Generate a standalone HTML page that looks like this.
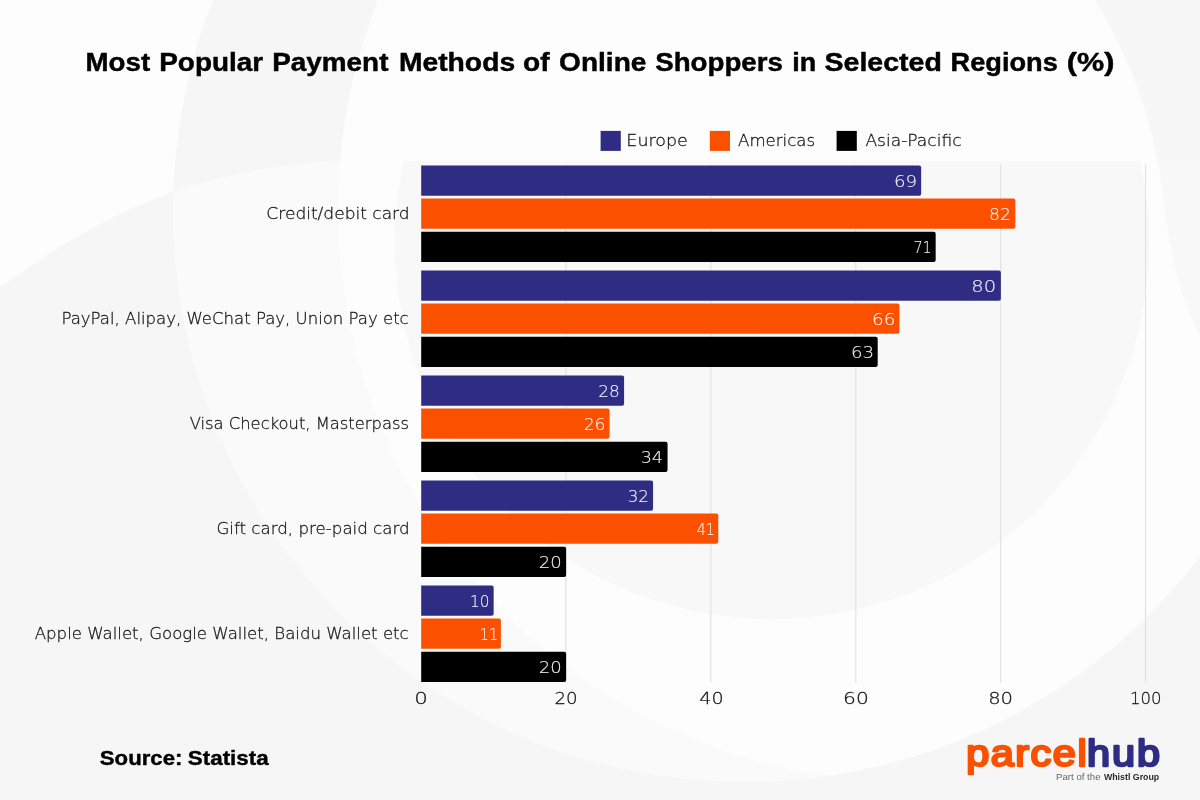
<!DOCTYPE html>
<html lang="en"><head><meta charset="utf-8"><title>Most Popular Payment Methods of Online Shoppers in Selected Regions (%)</title>
<style>
html,body{margin:0;padding:0;background:#f6f6f6;}
body{width:1200px;height:800px;overflow:hidden;position:relative;}
svg{position:absolute;left:0;top:0;display:block}
.lt{font-family:'DejaVu Sans Light','DejaVu Sans','Liberation Sans',sans-serif;font-weight:200;font-size:16px;fill:#161616;stroke:#161616;stroke-width:0.27px}
.val{font-family:'DejaVu Sans Light','DejaVu Sans','Liberation Sans',sans-serif;font-weight:200;font-size:16px;fill:#ffffff;stroke:#fff;stroke-width:0.15px;opacity:0.92}
.bd{font-family:'Liberation Sans','DejaVu Sans',sans-serif;font-weight:700;fill:#000}
</style></head><body>
<svg width="1200" height="800" viewBox="0 0 1200 800">

<!--BG-->
<defs><clipPath id="topclip"><path d="M0,0H1200V161H349Q270,162 185,188Q100,215 0,287Z"/></clipPath>
<clipPath id="outclip"><path d="M173,210a572,572 0 1 0 1144,0a572,572 0 1 0 -1144,0z"/></clipPath></defs>
<g id="bg">
<rect x="0" y="0" width="1200" height="800" fill="#f6f6f6"/>
<path d="M173,210a572,572 0 1 0 1144,0a572,572 0 1 0 -1144,0z" fill="#fdfdfd"/>
<g clip-path="url(#outclip)"><path d="M0,0H1200V800H0ZM338,210a572,572 0 1 0 1144,0a572,572 0 1 0 -1144,0z" fill-rule="evenodd" fill="#fafafa"/></g>
<path d="M395,242a377,377 0 1 0 754,0a377,377 0 1 0 -754,0z" fill="#f8f8f8"/>
<path d="M1095,0Q1150,90 1162,190T1200,335V0Z" fill="#f8f8f8"/>
<g clip-path="url(#topclip)"><rect x="0" y="0" width="1200" height="300" fill="#fdfdfd"/>
<g clip-path="url(#outclip)"><path d="M0,0H1200V800H0ZM338,210a572,572 0 1 0 1144,0a572,572 0 1 0 -1144,0z" fill-rule="evenodd" fill="#f6f6f6"/></g>
<path d="M1095,0Q1150,90 1162,190T1200,335V0Z" fill="#f7f7f7"/></g>
</g>
<g class="bd" font-size="25.8" style="font-family:'Liberation Sans','Liberation Sans',sans-serif" stroke="#000" stroke-width="0.45" stroke-linejoin="round">
<text x="85.57" y="70.9" textLength="64.56" lengthAdjust="spacingAndGlyphs" >Most</text>
<text x="159.26" y="70.9" textLength="103.84" lengthAdjust="spacingAndGlyphs" >Popular</text>
<text x="272.26" y="70.9" textLength="116.18" lengthAdjust="spacingAndGlyphs" >Payment</text>
<text x="398.93" y="70.9" textLength="116.21" lengthAdjust="spacingAndGlyphs" >Methods</text>
<text x="523.12" y="70.9" textLength="26.58" lengthAdjust="spacingAndGlyphs" >of</text>
<text x="559.12" y="70.9" textLength="87.28" lengthAdjust="spacingAndGlyphs" >Online</text>
<text x="655.27" y="70.9" textLength="127.55" lengthAdjust="spacingAndGlyphs" >Shoppers</text>
<text x="792.31" y="70.9" textLength="23.99" lengthAdjust="spacingAndGlyphs" >in</text>
<text x="824.55" y="70.9" textLength="117.27" lengthAdjust="spacingAndGlyphs" >Selected</text>
<text x="950.60" y="70.9" textLength="107.20" lengthAdjust="spacingAndGlyphs" >Regions</text>
<text x="1066.87" y="70.9" textLength="47.54" lengthAdjust="spacingAndGlyphs" >(%)</text>
</g>
<rect x="600.6" y="130.9" width="20.2" height="20" fill="#2e2d83"/>
<text x="626.39" y="146" textLength="61.51" lengthAdjust="spacingAndGlyphs" class="lt">Europe</text>
<rect x="709.8" y="130.9" width="20.2" height="20" fill="#fb5000"/>
<text x="738.04" y="146" textLength="77.09" lengthAdjust="spacingAndGlyphs" class="lt">Americas</text>
<rect x="836.6" y="130.9" width="20.2" height="20" fill="#000000"/>
<text x="865.43" y="146" textLength="96.12" lengthAdjust="spacingAndGlyphs" class="lt">Asia-Pacific</text>
<text x="414.33" y="703.7" textLength="13.57" lengthAdjust="spacingAndGlyphs" class="lt">0</text>
<rect x="565.4" y="164.5" width="1" height="518" fill="#dedede"/>
<text x="554.46" y="703.7" textLength="23.16" lengthAdjust="spacingAndGlyphs" class="lt">20</text>
<rect x="710.3" y="164.5" width="1" height="518" fill="#dedede"/>
<text x="699.30" y="703.7" textLength="24.30" lengthAdjust="spacingAndGlyphs" class="lt">40</text>
<rect x="855.3" y="164.5" width="1" height="518" fill="#dedede"/>
<text x="843.11" y="703.7" textLength="25.70" lengthAdjust="spacingAndGlyphs" class="lt">60</text>
<rect x="1000.2" y="164.5" width="1" height="518" fill="#dedede"/>
<text x="988.17" y="703.7" textLength="24.88" lengthAdjust="spacingAndGlyphs" class="lt">80</text>
<rect x="1145.1" y="164.5" width="1" height="518" fill="#dedede"/>
<text x="1130.00" y="703.7" textLength="31.48" lengthAdjust="spacingAndGlyphs" class="lt">100</text>
<text x="266.37" y="219.3" textLength="143.30" lengthAdjust="spacingAndGlyphs" class="lt">Credit/debit card</text>
<path d="M421.2,165.5h497.97a2,2 0 0 1 2,2v26.2a2,2 0 0 1 -2,2h-497.97z" fill="#2e2d83"/>
<text x="893.99" y="187.0" textLength="23.15" lengthAdjust="spacingAndGlyphs" class="val">69</text>
<path d="M421.2,198.6h592.17a2,2 0 0 1 2,2v26.2a2,2 0 0 1 -2,2h-592.17z" fill="#fb5000"/>
<text x="988.99" y="220.1" textLength="21.84" lengthAdjust="spacingAndGlyphs" class="val">82</text>
<path d="M421.2,231.7h512.47a2,2 0 0 1 2,2v26.2a2,2 0 0 1 -2,2h-512.47z" fill="#000000"/>
<text x="913.39" y="253.2" textLength="18.32" lengthAdjust="spacingAndGlyphs" class="val">71</text>
<text x="61.49" y="324.3" textLength="347.23" lengthAdjust="spacingAndGlyphs" class="lt">PayPal, Alipay, WeChat Pay, Union Pay etc</text>
<path d="M421.2,270.5h577.68a2,2 0 0 1 2,2v26.2a2,2 0 0 1 -2,2h-577.68z" fill="#2e2d83"/>
<text x="971.37" y="292.0" textLength="24.88" lengthAdjust="spacingAndGlyphs" class="val">80</text>
<path d="M421.2,303.6h476.24a2,2 0 0 1 2,2v26.2a2,2 0 0 1 -2,2h-476.24z" fill="#fb5000"/>
<text x="872.03" y="325.1" textLength="23.32" lengthAdjust="spacingAndGlyphs" class="val">66</text>
<path d="M421.2,336.7h454.50a2,2 0 0 1 2,2v26.2a2,2 0 0 1 -2,2h-454.50z" fill="#000000"/>
<text x="851.05" y="358.2" textLength="23.11" lengthAdjust="spacingAndGlyphs" class="val">63</text>
<text x="189.74" y="429.3" textLength="219.27" lengthAdjust="spacingAndGlyphs" class="lt">Visa Checkout, Masterpass</text>
<path d="M421.2,375.5h200.89a2,2 0 0 1 2,2v26.2a2,2 0 0 1 -2,2h-200.89z" fill="#2e2d83"/>
<text x="598.25" y="397.0" textLength="21.46" lengthAdjust="spacingAndGlyphs" class="val">28</text>
<path d="M421.2,408.6h186.40a2,2 0 0 1 2,2v26.2a2,2 0 0 1 -2,2h-186.40z" fill="#fb5000"/>
<text x="583.68" y="430.1" textLength="21.84" lengthAdjust="spacingAndGlyphs" class="val">26</text>
<path d="M421.2,441.7h244.36a2,2 0 0 1 2,2v26.2a2,2 0 0 1 -2,2h-244.36z" fill="#000000"/>
<text x="640.65" y="463.2" textLength="22.34" lengthAdjust="spacingAndGlyphs" class="val">34</text>
<text x="216.40" y="534.3" textLength="193.23" lengthAdjust="spacingAndGlyphs" class="lt">Gift card, pre-paid card</text>
<path d="M421.2,480.5h229.87a2,2 0 0 1 2,2v26.2a2,2 0 0 1 -2,2h-229.87z" fill="#2e2d83"/>
<text x="627.70" y="502.0" textLength="21.29" lengthAdjust="spacingAndGlyphs" class="val">32</text>
<path d="M421.2,513.6h295.09a2,2 0 0 1 2,2v26.2a2,2 0 0 1 -2,2h-295.09z" fill="#fb5000"/>
<text x="696.69" y="535.1" textLength="18.32" lengthAdjust="spacingAndGlyphs" class="val">41</text>
<path d="M421.2,546.7h142.92a2,2 0 0 1 2,2v26.2a2,2 0 0 1 -2,2h-142.92z" fill="#000000"/>
<text x="538.87" y="568.2" textLength="22.94" lengthAdjust="spacingAndGlyphs" class="val">20</text>
<text x="34.74" y="639.3" textLength="373.98" lengthAdjust="spacingAndGlyphs" class="lt">Apple Wallet, Google Wallet, Baidu Wallet etc</text>
<path d="M421.2,585.5h70.46a2,2 0 0 1 2,2v26.2a2,2 0 0 1 -2,2h-70.46z" fill="#2e2d83"/>
<text x="469.93" y="607.0" textLength="19.44" lengthAdjust="spacingAndGlyphs" class="val">10</text>
<path d="M421.2,618.6h77.71a2,2 0 0 1 2,2v26.2a2,2 0 0 1 -2,2h-77.71z" fill="#fb5000"/>
<text x="479.79" y="640.1" textLength="18.32" lengthAdjust="spacingAndGlyphs" class="val">11</text>
<path d="M421.2,651.7h142.92a2,2 0 0 1 2,2v26.2a2,2 0 0 1 -2,2h-142.92z" fill="#000000"/>
<text x="538.87" y="673.2" textLength="22.94" lengthAdjust="spacingAndGlyphs" class="val">20</text>
<g class="bd" font-size="20.8" stroke="#000" stroke-width="0.4" stroke-linejoin="round">
<text x="99.85" y="764.8" textLength="82.49" lengthAdjust="spacingAndGlyphs" >Source:</text>
<text x="187.85" y="764.8" textLength="80.81" lengthAdjust="spacingAndGlyphs" >Statista</text>
</g>
<g style="font-family:'Liberation Sans',sans-serif;font-weight:400" font-size="37" stroke-linejoin="round" stroke-linecap="round" stroke-width="2.4">
<text transform="translate(966.21,765.7) scale(1.12,1)" letter-spacing="1.349" fill="#fb5000" stroke="#fb5000">parcel</text>
<text transform="translate(1087.01,765.7) scale(1.12,1)" letter-spacing="1.709" fill="#2e2d83" stroke="#2e2d83">hub</text>
</g>
<g style="font-family:'Liberation Sans',sans-serif" font-size="8.4">
<text x="1056.05" y="780.2" textLength="44.47" lengthAdjust="spacingAndGlyphs" fill="#666">Part of the</text>
<text x="1103.90" y="780.2" textLength="55.35" lengthAdjust="spacingAndGlyphs" fill="#2a2a2a" font-weight="700">Whistl Group</text>
</g>
</svg></body></html>
